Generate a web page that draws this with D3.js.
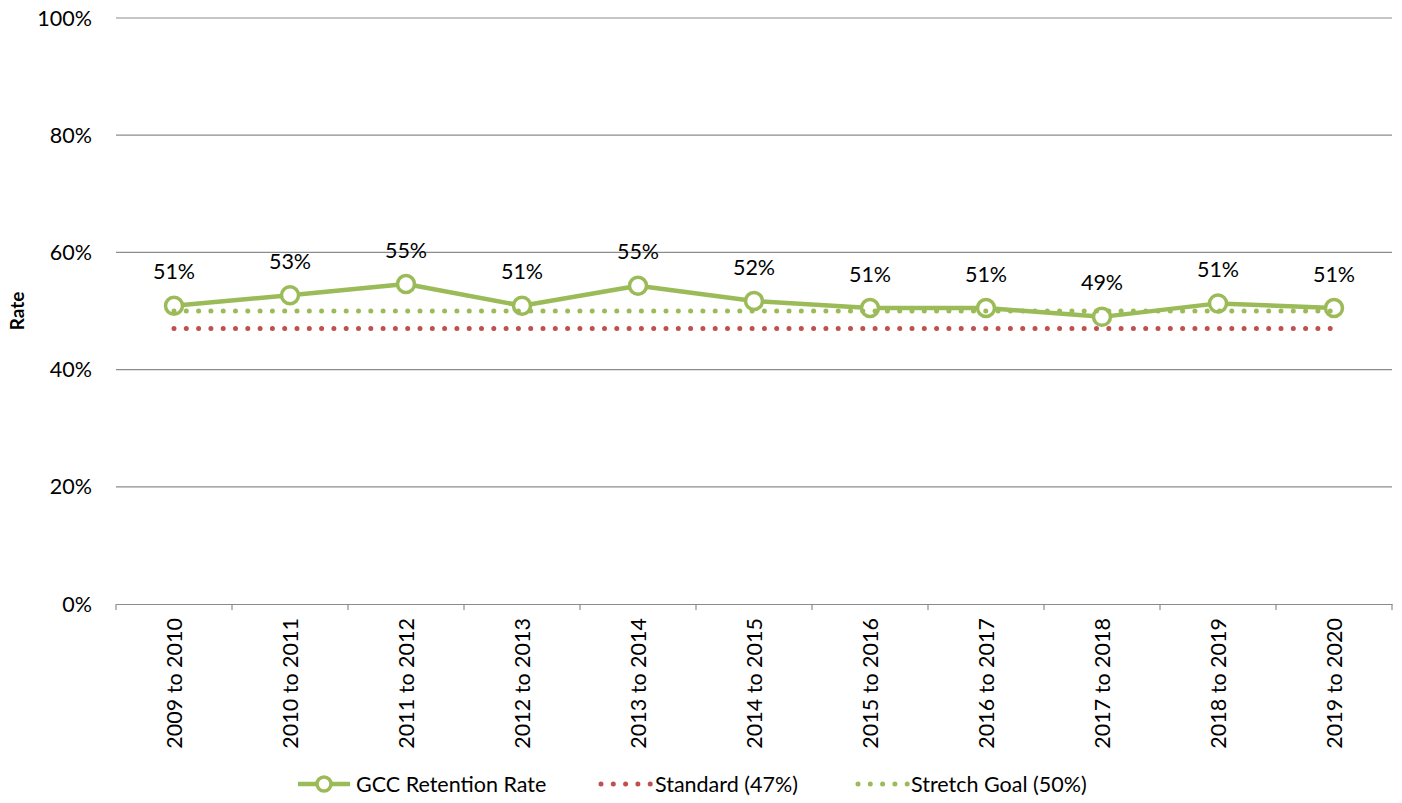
<!DOCTYPE html>
<html><head><meta charset="utf-8">
<script src="https://cdn.jsdelivr.net/npm/d3@7"></script>
<style>body{margin:0;background:#fff}svg{display:block;font-family:Lato,"Open Sans",sans-serif}</style>
</head><body><svg id="c" width="1402" height="803"></svg>
<script>
const categories = ["2009 to 2010","2010 to 2011","2011 to 2012","2012 to 2013","2013 to 2014","2014 to 2015","2015 to 2016","2016 to 2017","2017 to 2018","2018 to 2019","2019 to 2020"];
const retention = [0.509,0.527,0.546,0.509,0.543,0.517,0.505,0.505,0.490,0.513,0.505];
const retentionLabels = ["51%","53%","55%","51%","55%","52%","51%","51%","49%","51%","51%"];
const standard = [0.47,0.47,0.47,0.47,0.47,0.47,0.47,0.47,0.47,0.47,0.47];
const stretch = [0.50,0.50,0.50,0.50,0.50,0.50,0.50,0.50,0.50,0.50,0.50];
const yTicks = [0,0.2,0.4,0.6,0.8,1.0];
const seriesNames = ["GCC Retention Rate","Standard (47%)","Stretch Goal (50%)"];

const GREEN = "#9BBB59", RED = "#C0504D", GRID = "#8c8c8c";
const svg = d3.select("#c");
const L = 116, R = 1392, T = 18, B = 604;
const x = d3.scaleBand().domain(categories).range([L, R]).padding(0);
const y = d3.scaleLinear().domain([0, 1]).range([B, T]);
const cx = c => x(c) + x.bandwidth() / 2;
const FS = 21.5;

// gridlines
svg.append("g").selectAll("line").data(yTicks.filter(d => d > 0)).join("line")
  .attr("x1", L).attr("x2", R).attr("y1", d => y(d)).attr("y2", d => y(d))
  .attr("stroke", GRID).attr("stroke-width", 1.2);

// y tick labels
svg.append("g").selectAll("text").data(yTicks).join("text")
  .attr("x", 92).attr("y", d => y(d)).attr("dy", "0.35em").attr("text-anchor", "end")
  .attr("font-size", FS).attr("fill", "#000").text(d3.format(".0%"));

// x axis
const xAxis = d3.axisBottom(x).tickSize(0).tickFormat("");
const gx = svg.append("g").attr("transform", `translate(0,${B})`).call(xAxis);
gx.select(".domain").attr("stroke", GRID).attr("stroke-width", 1.2);
svg.append("g").selectAll("line").data(categories.concat(["__end"])).join("line")
  .attr("x1", (d, i) => i < categories.length ? x(d) : R)
  .attr("x2", (d, i) => i < categories.length ? x(d) : R)
  .attr("y1", B).attr("y2", B + 6).attr("stroke", GRID).attr("stroke-width", 1.2);
svg.append("g").selectAll("text").data(categories).join("text")
  .attr("transform", d => `translate(${cx(d)},${B + 14}) rotate(-90)`)
  .attr("text-anchor", "end").attr("dy", "0.35em")
  .attr("font-size", FS).attr("fill", "#000").text(d => d);

// axis title
svg.append("text").attr("transform", `translate(17,${(T + B) / 2}) rotate(-90)`)
  .attr("text-anchor", "middle").attr("dy", "0.35em")
  .attr("font-size", 19).attr("font-weight", "bold").text("Rate");

const line = d3.line().x((d, i) => cx(categories[i])).y(d => y(d));

// GCC retention
svg.append("path").datum(retention).attr("d", line).attr("fill", "none")
  .attr("stroke", GREEN).attr("stroke-width", 4.5).attr("stroke-linejoin", "round");
svg.append("g").selectAll("circle").data(retention).join("circle")
  .attr("cx", (d, i) => cx(categories[i])).attr("cy", d => y(d)).attr("r", 8.5)
  .attr("fill", "#fff").attr("stroke", GREEN).attr("stroke-width", 3.5);

// Standard
svg.append("path").datum(standard).attr("d", line).attr("fill", "none")
  .attr("stroke", RED).attr("stroke-width", 5).attr("stroke-linecap", "round")
  .attr("stroke-dasharray", "0 12.3");
// Stretch
svg.append("path").datum(stretch).attr("d", line).attr("fill", "none")
  .attr("stroke", GREEN).attr("stroke-width", 5).attr("stroke-linecap", "round")
  .attr("stroke-dasharray", "0 12.3");

// data labels
svg.append("g").selectAll("text").data(retention).join("text")
  .attr("x", (d, i) => cx(categories[i])).attr("y", d => y(d) - 34)
  .attr("dy", "0.35em").attr("text-anchor", "middle")
  .attr("font-size", FS).attr("fill", "#000").text((d, i) => retentionLabels[i]);

// legend
const ly = 784;
const lg = svg.append("g");
lg.append("line").attr("x1", 298).attr("x2", 350).attr("y1", ly).attr("y2", ly)
  .attr("stroke", GREEN).attr("stroke-width", 4.5);
lg.append("circle").attr("cx", 324).attr("cy", ly).attr("r", 7)
  .attr("fill", "#fff").attr("stroke", GREEN).attr("stroke-width", 3.5);
lg.append("line").attr("x1", 601).attr("x2", 651).attr("y1", ly).attr("y2", ly)
  .attr("stroke", RED).attr("stroke-width", 5).attr("stroke-linecap", "round").attr("stroke-dasharray", "0 12.3");
lg.append("line").attr("x1", 858).attr("x2", 908).attr("y1", ly).attr("y2", ly)
  .attr("stroke", GREEN).attr("stroke-width", 5).attr("stroke-linecap", "round").attr("stroke-dasharray", "0 12.3");
const legX = [356, 655, 911];
lg.selectAll("text.lt").data(seriesNames).join("text").attr("class", "lt")
  .attr("x", (d, i) => legX[i]).attr("y", ly).attr("dy", "0.35em")
  .attr("font-size", FS).attr("fill", "#000").text(d => d);
</script></body></html>
